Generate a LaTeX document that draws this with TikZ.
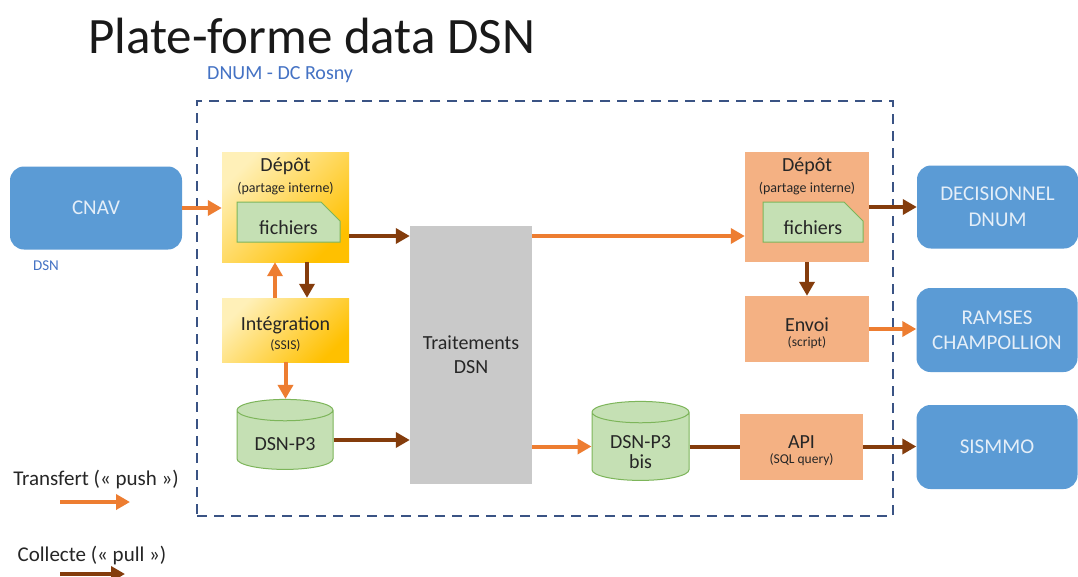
\documentclass[tikz,border=0pt]{standalone}
\usepackage{fontspec}
\setmainfont{Carlito}
\usetikzlibrary{arrows.meta,shapes.geometric,shapes.misc}
\definecolor{push}{HTML}{ED7D31}
\definecolor{pull}{HTML}{843C0C}
\definecolor{extblue}{HTML}{5B9BD5}
\definecolor{exttext}{HTML}{E4EEF8}
\definecolor{siteblue}{HTML}{4472C4}
\definecolor{framecol}{HTML}{3A5384}
\definecolor{salmon}{HTML}{F4B183}
\definecolor{docgreen}{HTML}{C5E0B4}
\definecolor{docline}{HTML}{7DB55A}
\definecolor{stockyellow}{HTML}{FFC000}
\definecolor{stocklight}{HTML}{FFF0B8}
\definecolor{procgray}{HTML}{C9C9C9}
\definecolor{txt}{HTML}{262626}
\newcommand{\lowtext}[2]{\raisebox{-#1}[\height][\depth]{\shortstack{#2}}}

\begin{document}
\begin{tikzpicture}[x=1pt,y=-1pt,font=\fontsize{20}{20}\selectfont,text=txt,
  every node/.style={inner sep=0pt,align=center},
  stockbox/.style={rectangle,top color=stocklight,bottom color=stockyellow,shading angle=45},
  outbox/.style={rectangle,fill=salmon},
  extbox/.style={rectangle,rounded corners=14pt,fill=extblue,text=exttext,
    font=\fontsize{21}{25}\selectfont,minimum width=161,minimum height=83},
  docbox/.style={chamfered rectangle,chamfered rectangle corners=north east,
    chamfered rectangle xsep=12pt,chamfered rectangle ysep=12pt,
    fill=docgreen,draw=docline,line width=1pt,minimum height=40},
  dbase/.style={cylinder,shape border rotate=90,aspect=0.35,draw=docline,line width=1pt,
    cylinder uses custom fill,cylinder body fill=docgreen,cylinder end fill=docgreen},
  pusharrow/.style={push,line width=4pt,-{Triangle[length=14pt,width=15pt]}},
  pullarrow/.style={pull,line width=4pt,-{Triangle[length=14pt,width=15pt]}},
  frame/.style={draw=framecol,line width=2.5pt,dash pattern=on 10pt off 7pt}]

  \useasboundingbox[fill=white] (0,0) rectangle (1078,576);

  \node[anchor=base west,font=\fontsize{51}{60}\selectfont,text=black!90] (title) at (88,53) {Plate-forme data DSN};
  \node[anchor=base west,text=siteblue] (site) at (207,79) {DNUM - DC Rosny};
  \node[frame,minimum width=696,minimum height=415] (platform) at (545,308.5) {};

  \node[extbox,minimum width=172] (cnav) at (96,208) {CNAV};
  \node[text=siteblue,font=\fontsize{15}{16}\selectfont] (cnavflux) at (46,266) {DSN};

  \node[stockbox,minimum width=127,minimum height=110] (depotL) at (285.5,207) {};
  \node[anchor=north] (depotLtxt) at ([yshift=-6pt]depotL.north) {Dépôt\\[1pt]{\fontsize{14}{15}\selectfont(partage interne)}};
  \node[docbox,minimum width=103] (fichL) at (288.5,222) {\lowtext{6pt}{fichiers}};
  \node[stockbox,minimum width=127,minimum height=64] (integ) at (285.5,330) {\lowtext{4pt}{Intégration\\[2pt]{\fontsize{13.5}{14}\selectfont(SSIS)}}};
  \node[dbase,minimum width=96,minimum height=70] (p3) at (285,440) {\lowtext{4pt}{DSN-P3}};

  \node[rectangle,fill=procgray,minimum width=122,minimum height=258] (trait) at (471,355) {Traitements\\[4pt]DSN};

  \node[outbox,minimum width=124,minimum height=110] (depotR) at (807,207) {};
  \node[anchor=north] (depotRtxt) at ([yshift=-6pt]depotR.north) {Dépôt\\[1pt]{\fontsize{14}{15}\selectfont(partage interne)}};
  \node[docbox,minimum width=100] (fichR) at (813,222) {\lowtext{6pt}{fichiers}};
  \node[outbox,minimum width=124,minimum height=66] (envoi) at (807,329) {\lowtext{4pt}{Envoi\\[2pt]{\fontsize{13.5}{14}\selectfont(script)}}};
  \node[dbase,minimum width=97,minimum height=79] (p3bis) at (640.5,446.5) {\lowtext{6pt}{DSN-P3\\[3pt]bis}};
  \node[outbox,minimum width=123,minimum height=66] (api) at (801.5,446.5) {\lowtext{4pt}{API\\[2pt]{\fontsize{13.5}{14}\selectfont(SQL query)}}};

  \node[extbox] (decis) at (997.5,207) {DECISIONNEL\\[1pt]DNUM};
  \node[extbox,minimum height=84] (ramses) at (997,330) {RAMSES\\[0pt]CHAMPOLLION};
  \node[extbox,minimum height=84] (sismmo) at (997,447) {SISMMO};

  \draw[pusharrow] (cnav.east) -- (cnav.east -| depotL.west);
  \draw[pullarrow] ([yshift=-29pt]depotL.east) -- ([yshift=-29pt]depotL.east -| trait.west);
  \draw[pullarrow] ([xshift=21.5pt]depotL.south) -- ([xshift=21.5pt]depotL.south |- integ.north);
  \draw[pusharrow] ([xshift=-10.5pt]integ.north) -- ([xshift=-10.5pt]integ.north |- depotL.south);
  \draw[pusharrow] (integ.south) -- (integ.south |- p3.north);
  \draw[pullarrow] (p3.east) -- (p3.east -| trait.west);
  \draw[pusharrow] ([yshift=-29pt]depotR.west -| trait.east) -- ([yshift=-29pt]depotR.west);
  \draw[pusharrow] (p3bis.west -| trait.east) -- (p3bis.west);
  \draw[pull,line width=4pt] (p3bis.east) -- (api.west);
  \draw[pullarrow] (api.east) -- (api.east -| sismmo.west);
  \draw[pullarrow] (depotR.east) -- (decis.west);
  \draw[pullarrow] (depotR.south) -- (envoi.north);
  \draw[pusharrow] (envoi.east) -- (envoi.east -| ramses.west);

  \node[font=\fontsize{21}{25}\selectfont] (pushtxt) at (96,480) {Transfert (« push »)};
  \coordinate (pushA) at (60,502);
  \coordinate (pushB) at (130,502);
  \draw[pusharrow] (pushA) -- (pushB);
  \node[font=\fontsize{21}{25}\selectfont] (pulltxt) at (92,556) {Collecte (« pull »)};
  \coordinate (pullA) at (60,574);
  \coordinate (pullB) at (125,574);
  \draw[pullarrow] (pullA) -- (pullB);
\end{tikzpicture}
\end{document}
